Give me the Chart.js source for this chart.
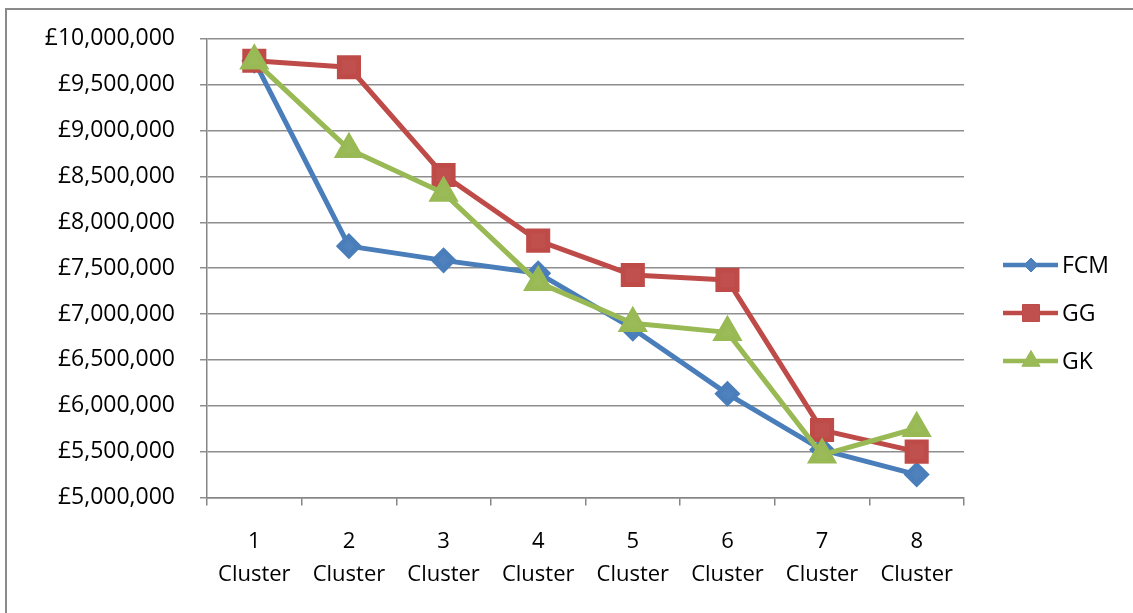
<!DOCTYPE html>
<html>
<head>
<meta charset="utf-8">
<script src="https://cdn.jsdelivr.net/npm/chart.js@4.4.1/dist/chart.umd.min.js"></script>
<style>
  html, body { margin: 0; padding: 0; background: #fff; }
  #wrap { position: relative; width: 1133px; height: 613px; overflow: hidden; }
  #frame { position: absolute; left: 5px; top: 8px; width: 1200px; height: 700px;
           border-left: 2px solid #8a8a8a; border-top: 2px solid #8a8a8a; }
  canvas { position: absolute; left: 0; top: 0; }
</style>
</head>
<body>
<div id="wrap">
  <div id="frame"></div>
  <canvas id="c" width="1133" height="613"></canvas>
</div>
<script>
// Clusters along the x axis (two-line labels)
const clusterNumbers = ['1', '2', '3', '4', '5', '6', '7', '8'];
const clusterWord = 'Cluster';

// Series values (GBP)
const fcmValues = [9760000, 7740000, 7585000, 7445000, 6840000, 6130000, 5520000, 5250000];
const ggValues  = [9760000, 9690000, 8515000, 7800000, 7425000, 7372000, 5735000, 5500000];
const gkValues  = [9760000, 8795000, 8320000, 7345000, 6900000, 6800000, 5465000, 5755000];

// Value axis
const yMin = 5000000;
const yMax = 10000000;
const yStep = 500000;

const seriesNames = ['FCM', 'GG', 'GK'];

const labels = clusterNumbers.map(n => [n, clusterWord]);

function fmtPounds(v) {
  return '£' + Math.round(v).toLocaleString('en-GB');
}

// Legend drawn as line + marker samples on the right
const sideLegend = {
  id: 'sideLegend',
  afterDraw(chart) {
    const ctx = chart.ctx;
    const x0 = 1003, x1 = 1058, mx = 1031, tx = 1062;
    const ys = [265, 313, 361];
    chart.data.datasets.forEach((ds, i) => {
      const y = ys[i];
      ctx.save();
      ctx.strokeStyle = ds.borderColor;
      ctx.lineWidth = 4.5;
      ctx.lineCap = 'butt';
      ctx.beginPath();
      ctx.moveTo(x0, y);
      ctx.lineTo(x1, y);
      ctx.stroke();
      ctx.fillStyle = ds.pointBackgroundColor;
      ctx.strokeStyle = ds.pointBorderColor;
      ctx.lineWidth = 1;
      Chart.helpers.drawPoint(ctx, {
        pointStyle: ds.pointStyle,
        rotation: 0,
        radius: ds.legendRadius,
        borderWidth: 1
      }, mx, y);
      ctx.fillStyle = '#000';
      ctx.font = '23px "Open Sans"';
      ctx.textAlign = 'left';
      ctx.textBaseline = 'middle';
      ctx.fillText(ds.label, tx, y + 1);
      ctx.restore();
    });
  }
};

new Chart(document.getElementById('c'), {
  type: 'line',
  data: {
    labels: labels,
    datasets: [
      {
        label: seriesNames[0],
        data: fcmValues,
        order: 2,
        borderColor: '#4A7EBB',
        backgroundColor: '#4F81BD',
        pointBackgroundColor: '#4F81BD',
        pointBorderColor: '#4A7EBB',
        pointStyle: 'rectRot',
        pointRadius: 9.5,
        legendRadius: 7,
        borderWidth: 5,
        tension: 0
      },
      {
        label: seriesNames[1],
        data: ggValues,
        order: 1,
        borderColor: '#BE4B48',
        backgroundColor: '#C0504D',
        pointBackgroundColor: '#C0504D',
        pointBorderColor: '#BE4B48',
        pointStyle: 'rect',
        pointRadius: 13.5,
        legendRadius: 12,
        borderWidth: 5,
        tension: 0
      },
      {
        label: seriesNames[2],
        data: gkValues,
        order: 0,
        borderColor: '#98B954',
        backgroundColor: '#9BBB59',
        pointBackgroundColor: '#9BBB59',
        pointBorderColor: '#98B954',
        pointStyle: 'triangle',
        pointRadius: 12.5,
        legendRadius: 10.5,
        borderWidth: 5,
        tension: 0
      }
    ]
  },
  options: {
    responsive: false,
    animation: false,
    devicePixelRatio: 1,
    layout: { padding: { left: 0, top: 37.5, right: 169, bottom: 0 } },
    plugins: {
      legend: { display: false },
      tooltip: { enabled: false }
    },
    elements: {
      point: { borderWidth: 1, hoverRadius: 0 },
      line: { borderCapStyle: 'butt', borderJoinStyle: 'round' }
    },
    scales: {
      x: {
        offset: true,
        grid: {
          offset: true,
          drawOnChartArea: false,
          drawTicks: true,
          tickLength: 8,
          color: '#868686',
          lineWidth: 1.5
        },
        border: { display: true, color: '#868686', width: 1.5 },
        ticks: {
          color: '#000',
          padding: 20,
          maxRotation: 0,
          autoSkip: false,
          font: { family: 'Open Sans', size: 22, lineHeight: 1.5 }
        },
        afterFit(scale) { scale.height = 613 - 497.5; }
      },
      y: {
        min: yMin,
        max: yMax,
        grid: {
          color: '#8E8E8E',
          lineWidth: 1.5,
          drawTicks: true,
          tickLength: 7
        },
        border: { display: true, color: '#868686', width: 1.5 },
        ticks: {
          stepSize: yStep,
          color: '#000',
          padding: 25,
          font: { family: 'Open Sans', size: 23 },
          callback: v => fmtPounds(v)
        },
        afterFit(scale) { scale.width = 207; }
      }
    }
  },
  plugins: [sideLegend]
});
</script>
</body>
</html>
